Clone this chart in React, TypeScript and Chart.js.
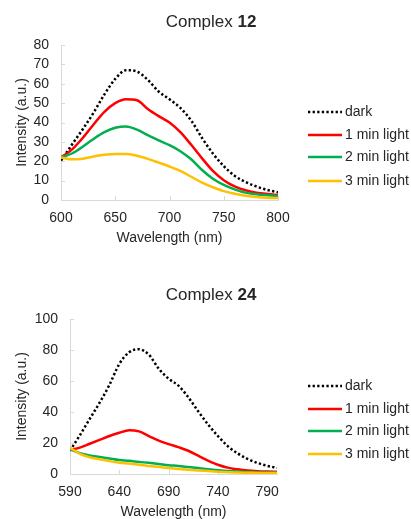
import React, { useEffect, useRef } from 'react';
import { Chart, registerables } from 'chart.js';

Chart.register(...registerables);

// ---------- data: Complex 12 ----------
const WL_12 = [600, 610, 620, 630, 640, 650, 660, 670, 680, 690, 700, 710, 720, 730, 740, 750, 760, 770, 780, 790, 800];
const DARK_12 = [20.3, 28.5, 36.5, 45, 54.5, 62.5, 67, 66.3, 62, 56, 52, 47.5, 41, 32, 24, 17.5, 12.5, 9.3, 7, 5.2, 4];
const MIN1_12 = [22, 26, 32, 39, 45.5, 50, 52, 51.5, 47, 43.3, 40, 35, 28.5, 21.5, 15, 10.2, 7, 5, 3.8, 3.1, 2.6];
const MIN2_12 = [22, 24, 27.5, 31.5, 35, 37.3, 38, 36.3, 33.5, 30.8, 28.3, 25.2, 21, 15.5, 11, 7.8, 5.5, 3.8, 3, 2.5, 2.1];
const MIN3_12 = [22, 21, 21.3, 22.5, 23.3, 23.8, 23.8, 22.8, 21.2, 19.3, 17.3, 15, 12, 9, 6.6, 4.6, 3.2, 2.2, 1.6, 1.2, 1];
const X_TICKS_12 = [600, 650, 700, 750, 800];
const Y_TICKS_12 = [0, 10, 20, 30, 40, 50, 60, 70, 80];

// ---------- data: Complex 24 ----------
const WL_24 = [590, 600, 610, 620, 630, 640, 650, 660, 670, 680, 690, 700, 710, 720, 730, 740, 750, 760, 770, 780, 790, 800];
const DARK_24 = [15, 25, 35.5, 46, 57.5, 71, 78.5, 80.5, 77, 68, 61.5, 57, 49.5, 40.5, 32, 24.5, 18, 13.3, 9.8, 7.2, 5.3, 4];
const MIN1_24 = [15.5, 17, 19.5, 22, 24.5, 26.6, 28.3, 27.5, 24.5, 21.5, 19.3, 17.3, 15, 11.8, 8.7, 6, 4.1, 3, 2.2, 1.8, 1.6, 1.5];
const MIN2_24 = [16, 13.5, 12, 11, 10, 9, 8.5, 7.8, 7.2, 6.5, 5.7, 5.2, 4.5, 3.8, 3.1, 2.5, 2, 1.6, 1.3, 1.1, 1, 0.9];
const MIN3_24 = [17, 13, 10.8, 9.5, 8.3, 7.3, 6.7, 6, 5.2, 4.6, 3.9, 3.3, 2.8, 2.3, 1.9, 1.5, 1.2, 0.9, 0.8, 0.7, 0.6, 0.6];
const X_TICKS_24 = [590, 640, 690, 740, 790];
const Y_TICKS_24 = [0, 20, 40, 60, 80, 100];

const SERIES_LABELS = ['dark', '1 min light', '2 min light', '3 min light'];
const SERIES_COLORS = ['#000000', '#ff0000', '#00b050', '#ffc000'];

const FONT = "'Liberation Sans', Arial, sans-serif";
const TEXT = '#262626';
const AXIS = '#d9d9d9';

type Panel = {
  num: string;
  wl: number[];
  series: number[][];
  xTicks: number[];
  yTicks: number[];
  xMin: number;
  xMax: number;
  yMax: number;
  canvasH: number;
  padTop: number;
  padRight: number;
  yW: number;
  xH: number;
  xTitlePadBottom: number;
  titleX: number;
  titleY: number;
  legendX: number;
  legendY: number[];
};

const PANELS: Panel[] = [
  {
    num: '12', wl: WL_12, series: [DARK_12, MIN1_12, MIN2_12, MIN3_12],
    xTicks: X_TICKS_12, yTicks: Y_TICKS_12, xMin: 600, xMax: 800, yMax: 80,
    canvasH: 260, padTop: 45, padRight: 133, yW: 61, xH: 60, xTitlePadBottom: 13,
    titleX: 211, titleY: 22, legendX: 308, legendY: [112, 135, 157, 181],
  },
  {
    num: '24', wl: WL_24, series: [DARK_24, MIN1_24, MIN2_24, MIN3_24],
    xTicks: X_TICKS_24, yTicks: Y_TICKS_24, xMin: 590, xMax: 800, yMax: 100,
    canvasH: 270, padTop: 59, padRight: 134, yW: 70, xH: 56, xTitlePadBottom: 9.6,
    titleX: 211, titleY: 35, legendX: 308, legendY: [126, 149, 171, 194],
  },
];

function ChartPanel({ p }: { p: Panel }) {
  const ref = useRef<HTMLCanvasElement | null>(null);

  useEffect(() => {
    const canvas = ref.current;
    if (!canvas) return;

    const innerTicks = {
      id: 'innerTicks',
      beforeDatasetsDraw(chart: any) {
        const { ctx, chartArea, scales } = chart;
        ctx.save();
        ctx.strokeStyle = AXIS;
        ctx.lineWidth = 1;
        scales.x.ticks.forEach((t: any) => {
          const px = Math.round(scales.x.getPixelForValue(t.value)) + 0.5;
          ctx.beginPath();
          ctx.moveTo(px, chartArea.bottom);
          ctx.lineTo(px, chartArea.bottom - 4);
          ctx.stroke();
        });
        scales.y.ticks.forEach((t: any) => {
          const py = Math.round(scales.y.getPixelForValue(t.value)) + 0.5;
          ctx.beginPath();
          ctx.moveTo(chartArea.left, py);
          ctx.lineTo(chartArea.left + 4, py);
          ctx.stroke();
        });
        ctx.restore();
      },
    };

    const titleAndLegend = {
      id: 'titleAndLegend',
      afterDraw(chart: any) {
        const { ctx } = chart;
        ctx.save();
        const normal = `17px ${FONT}`;
        const bold = `bold 17px ${FONT}`;
        ctx.font = normal;
        const w1 = ctx.measureText('Complex ').width;
        ctx.font = bold;
        const w2 = ctx.measureText(p.num).width;
        const x0 = p.titleX - (w1 + w2) / 2;
        ctx.fillStyle = TEXT;
        ctx.textBaseline = 'middle';
        ctx.textAlign = 'left';
        ctx.font = normal;
        ctx.fillText('Complex ', x0, p.titleY);
        ctx.font = bold;
        ctx.fillText(p.num, x0 + w1, p.titleY);

        chart.data.datasets.forEach((ds: any, i: number) => {
          const y = p.legendY[i];
          ctx.save();
          ctx.strokeStyle = ds.borderColor;
          ctx.lineWidth = ds.borderWidth;
          ctx.setLineDash(ds.borderDash || []);
          ctx.beginPath();
          ctx.moveTo(p.legendX, y);
          ctx.lineTo(p.legendX + 34, y);
          ctx.stroke();
          ctx.restore();
          ctx.font = `14px ${FONT}`;
          ctx.fillStyle = TEXT;
          ctx.textBaseline = 'middle';
          ctx.fillText(ds.label, p.legendX + 37, y + 0.5);
        });
        ctx.restore();
      },
    };

    const datasets = p.series.map((vals, i) => ({
      label: SERIES_LABELS[i],
      data: p.wl.map((x, j) => ({ x, y: vals[j] })),
      borderColor: SERIES_COLORS[i],
      backgroundColor: SERIES_COLORS[i],
      borderWidth: 2.5,
      borderDash: i === 0 ? [2.3, 2.3] : [],
      pointRadius: 0,
      cubicInterpolationMode: 'monotone' as const,
      fill: false,
      order: 3 - i,
    }));

    const chart = new Chart(canvas, {
      type: 'line',
      data: { datasets },
      options: {
        animation: false,
        responsive: false,
        maintainAspectRatio: false,
        devicePixelRatio: 1,
        layout: { padding: { top: p.padTop, right: p.padRight, left: 0, bottom: 0 } },
        plugins: { legend: { display: false }, title: { display: false }, tooltip: { enabled: false } },
        scales: {
          x: {
            type: 'linear',
            min: p.xMin,
            max: p.xMax,
            afterBuildTicks: (scale: any) => { scale.ticks = p.xTicks.map((v) => ({ value: v })); },
            afterFit: (scale: any) => { scale.height = p.xH; },
            grid: { display: false, drawTicks: false },
            border: { display: true, color: AXIS, width: 1 },
            ticks: { font: { family: FONT, size: 14 }, color: TEXT, padding: 10, maxRotation: 0, autoSkip: false },
            title: {
              display: true, text: 'Wavelength (nm)', color: TEXT,
              font: { family: FONT, size: 14 }, padding: { top: 0, bottom: p.xTitlePadBottom },
            },
          },
          y: {
            type: 'linear',
            min: 0,
            max: p.yMax,
            afterBuildTicks: (scale: any) => { scale.ticks = p.yTicks.map((v) => ({ value: v })); },
            afterFit: (scale: any) => { scale.width = p.yW; },
            grid: { display: false, drawTicks: false },
            border: { display: true, color: AXIS, width: 1 },
            ticks: { font: { family: FONT, size: 14 }, color: TEXT, padding: 12, autoSkip: false },
            title: {
              display: true, text: 'Intensity (a.u.)', color: TEXT,
              font: { family: FONT, size: 14 }, padding: { top: 13.6, bottom: 0 },
            },
          },
        },
      },
      plugins: [innerTicks, titleAndLegend],
    } as any);

    return () => chart.destroy();
  }, [p]);

  return <canvas ref={ref} width={411} height={p.canvasH} style={{ display: 'block', width: 411, height: p.canvasH }} />;
}

export default function App() {
  return (
    <div style={{ position: 'absolute', left: 0, top: 0, width: 411, height: 519, overflow: 'hidden', background: '#fff' }}>
      <div style={{ position: 'absolute', left: 0, top: 0 }}>
        <ChartPanel p={PANELS[0]} />
      </div>
      <div style={{ position: 'absolute', left: 0, top: 260 }}>
        <ChartPanel p={PANELS[1]} />
      </div>
    </div>
  );
}
